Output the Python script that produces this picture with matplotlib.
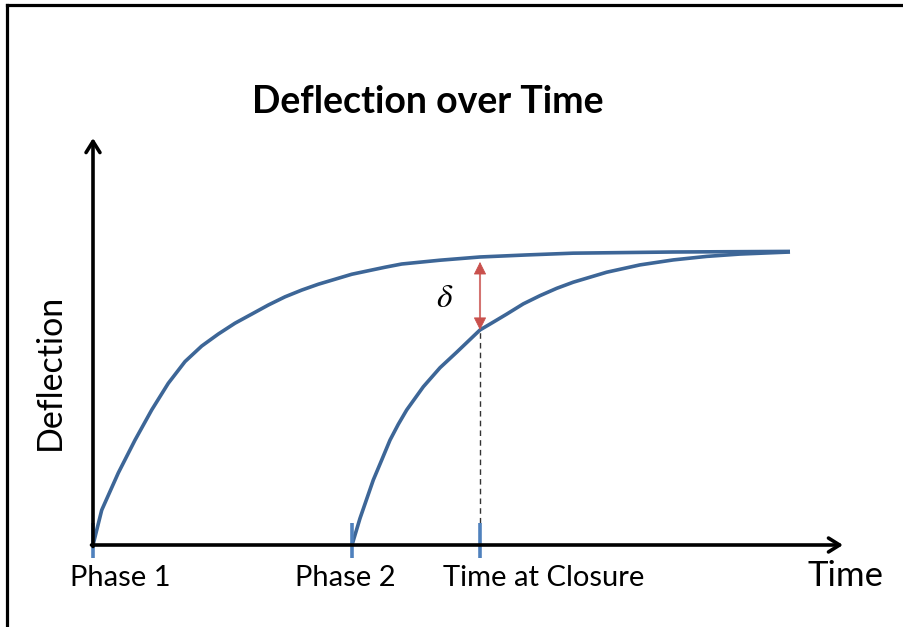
import matplotlib
matplotlib.use("Agg")
import matplotlib.pyplot as plt
from matplotlib.lines import Line2D

plt.rcParams['font.family'] = ['Lato', 'DejaVu Sans']
plt.rcParams['mathtext.fontset'] = 'stix'

# curves: time (arbitrary units) vs deflection (normalised)
t_phase1 = [0, 0.174, 0.506, 0.84, 1.174, 1.506, 1.84, 2.174, 2.506, 2.84,
            3.174, 3.506, 3.84, 4.174, 4.506, 4.84, 5.174, 5.506, 5.84, 6.174,
            6.94, 7.74, 8.68, 9.6, 10.6, 11.6, 13.94]
d_phase1 = [0, 0.119, 0.246, 0.358, 0.461, 0.552, 0.626, 0.679, 0.720, 0.757,
            0.788, 0.819, 0.847, 0.870, 0.890, 0.907, 0.924, 0.936, 0.948, 0.959,
            0.972, 0.983, 0.990, 0.996, 0.998, 1.0, 1.002]

t_phase2 = [5.18, 5.34, 5.606, 5.774, 5.94, 6.106, 6.274, 6.606, 6.94, 7.274,
            7.74, 7.94, 8.274, 8.606, 8.94, 9.274, 9.606, 10.274, 10.94, 11.606,
            12.274, 12.94, 13.94]
d_phase2 = [0, 0.091, 0.222, 0.290, 0.358, 0.412, 0.461, 0.540, 0.605, 0.658,
            0.734, 0.754, 0.788, 0.823, 0.851, 0.876, 0.897, 0.931, 0.956, 0.973,
            0.985, 0.993, 1.0]

tick_times = [0, 5.18, 7.74]
tick_labels = ["Phase 1", "Phase 2", "Time at Closure"]
t_closure = 7.74
d_top_closure = 0.966
d_low_closure = 0.734

W, H = 904, 627
fig = plt.figure(figsize=(W / 100, H / 100), dpi=100)
ax = fig.add_axes([0, 0, 1, 1])
ax.set_xlim(-93 / 50, (W - 93) / 50)
ax.set_ylim((545 - H) / 293, 545 / 293)
ax.axis('off')

# outer frame (top and left only, the picture is cropped)
fig.add_artist(Line2D([7 / W, 7 / W], [0, 1 - 5 / H], color='black', lw=2.3))
fig.add_artist(Line2D([7 / W, 1], [1 - 5 / H, 1 - 5 / H], color='black', lw=2.3))

# axes arrows
arr = dict(arrowstyle='->, head_length=0.8, head_width=0.5', color='black',
           lw=2.6, shrinkA=0, shrinkB=0)
ax.annotate('', xy=(0, 1.389), xytext=(0, -0.005), arrowprops=arr)
ax.annotate('', xy=(15.0, 0), xytext=(-0.03, 0), arrowprops=arr)

curve_col = '#3d6697'
ax.plot(t_phase1, d_phase1, color=curve_col, lw=2.6, solid_capstyle='butt',
        solid_joinstyle='round')
ax.plot(t_phase2, d_phase2, color=curve_col, lw=2.6, solid_capstyle='butt',
        solid_joinstyle='round')

# dashed drop line at closure
ax.plot([t_closure, t_closure], [0.075, d_low_closure], color='#333333',
        lw=1.0, ls=(0, (4, 3)))

# blue tick marks and labels
for tt in tick_times:
    ax.plot([tt, tt], [-0.044, 0.075], color='#4f81bd', lw=2.6,
            solid_capstyle='butt')
for tt, lab, dx in zip(tick_times, tick_labels, [0.54, -0.13, 1.27]):
    ax.text(tt + dx, -0.113, lab, fontsize=21, ha='center', va='center')

# delta arrow: light shaft, darker heads
ax.plot([t_closure, t_closure], [d_low_closure + 0.04, d_top_closure - 0.04],
        color='#dc8e8c', lw=1.5)
ax.annotate('', xy=(t_closure, d_top_closure), xytext=(t_closure, d_low_closure),
            arrowprops=dict(arrowstyle='<|-|>, head_length=0.8, head_width=0.4',
                            color='#c9504c', lw=0.6, shrinkA=0, shrinkB=0))
ax.text(7.04, 0.843, r'$\delta$', fontsize=24, ha='center', va='center')

ax.text(6.7, 1.512, 'Deflection over Time', fontsize=27, fontweight='bold',
        ha='center', va='center')
ax.text(-0.86, 0.59, 'Deflection', fontsize=24.5, rotation=90, ha='center',
        va='center')
ax.text(15.06, -0.106, 'Time', fontsize=25, ha='center', va='center')

fig.savefig('out.png', dpi=100)
